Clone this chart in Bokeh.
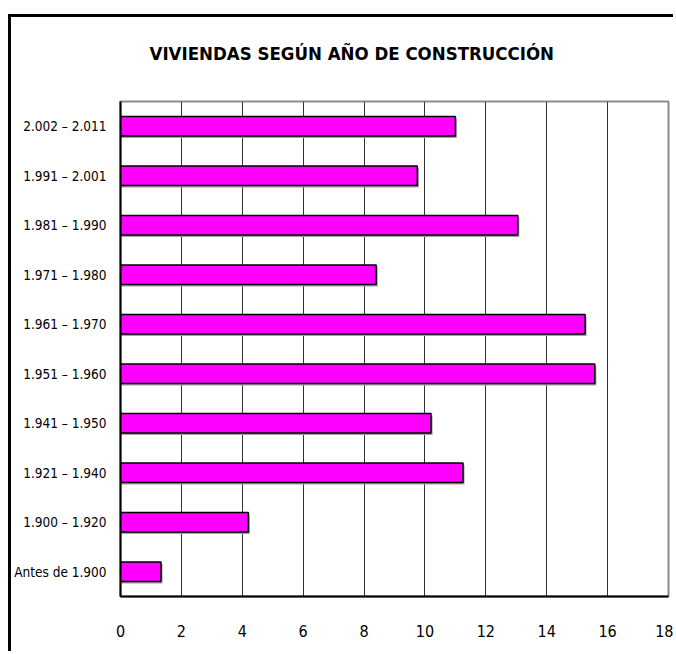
from bokeh.plotting import figure
from bokeh.models import FactorRange, Range1d, FixedTicker, Title, ColumnDataSource
from bokeh.transform import dodge
from bokeh.embed import file_html
from bokeh.resources import INLINE

# Housing stock by construction period (bottom to top)
periods = [
    "Antes de 1.900",
    "1.900 – 1.920",
    "1.921 – 1.940",
    "1.941 – 1.950",
    "1.951 – 1.960",
    "1.961 – 1.970",
    "1.971 – 1.980",
    "1.981 – 1.990",
    "1.991 – 2.001",
    "2.002 – 2.011",
]
percent = [1.33, 4.2, 11.25, 10.2, 15.58, 15.26, 8.4, 13.05, 9.75, 11.0]
x_ticks = [0, 2, 4, 6, 8, 10, 12, 14, 16, 18]
title_text = "VIVIENDAS SEGÚN AÑO DE CONSTRUCCIÓN"

FONT = "'Liberation Sans Narrow', 'DejaVu Sans Condensed', 'Liberation Sans', sans-serif"

source = ColumnDataSource(data=dict(period=periods, percent=percent))

# the page carries a 3px black border on top/left, offset from the window corner
p = figure(
    width=665, height=637,
    y_range=FactorRange(factors=periods),
    x_range=Range1d(0, 18),
    output_backend="svg", toolbar_location=None,
    min_border_left=105, min_border_right=8,
    min_border_top=84, min_border_bottom=58,
    background_fill_color="white", border_fill_color="white",
)
p.styles = {
    "border-top": "3px solid black",
    "border-left": "3px solid black",
    "margin-left": "8px",
    "margin-top": "14px",
}

p.title = Title(text=title_text, align="left", offset=29, standoff=40,
                text_font=FONT, text_font_size="18.5px", text_font_style="bold",
                text_color="black")
# blank band between the heading and the plot area
p.add_layout(Title(text=" ", standoff=0, text_font_size="14px"), "above")

# drop shadow, then the bars themselves
p.hbar(y=dodge("period", -0.04, range=p.y_range), right=dodge("percent", 0.05),
       left=0, height=0.39, source=source, fill_color="#a0a0a0", line_color=None)
p.hbar(y="period", right="percent", left=0, height=0.39, source=source,
       fill_color="#FF00FF", line_color="black", line_width=1.5)

# plot frame
p.outline_line_color = "#8c8c8c"
p.outline_line_width = 2

p.xgrid.ticker = FixedTicker(ticks=x_ticks)
p.xgrid.grid_line_color = "#333333"
p.xgrid.grid_line_width = 1
p.ygrid.grid_line_color = None

p.xaxis.ticker = FixedTicker(ticks=x_ticks)
for ax in (p.xaxis[0], p.yaxis[0]):
    ax.axis_line_color = "black"
    ax.axis_line_width = 2
    ax.major_tick_line_color = None
    ax.minor_tick_line_color = None
    ax.major_label_text_font = FONT
    ax.major_label_text_color = "black"
p.xaxis.major_label_text_font_size = "16px"
p.xaxis.major_label_standoff = 22
p.yaxis.major_label_text_font_size = "13.5px"
p.yaxis.major_label_standoff = 8

open("out.html", "w").write(file_html(p, INLINE))
